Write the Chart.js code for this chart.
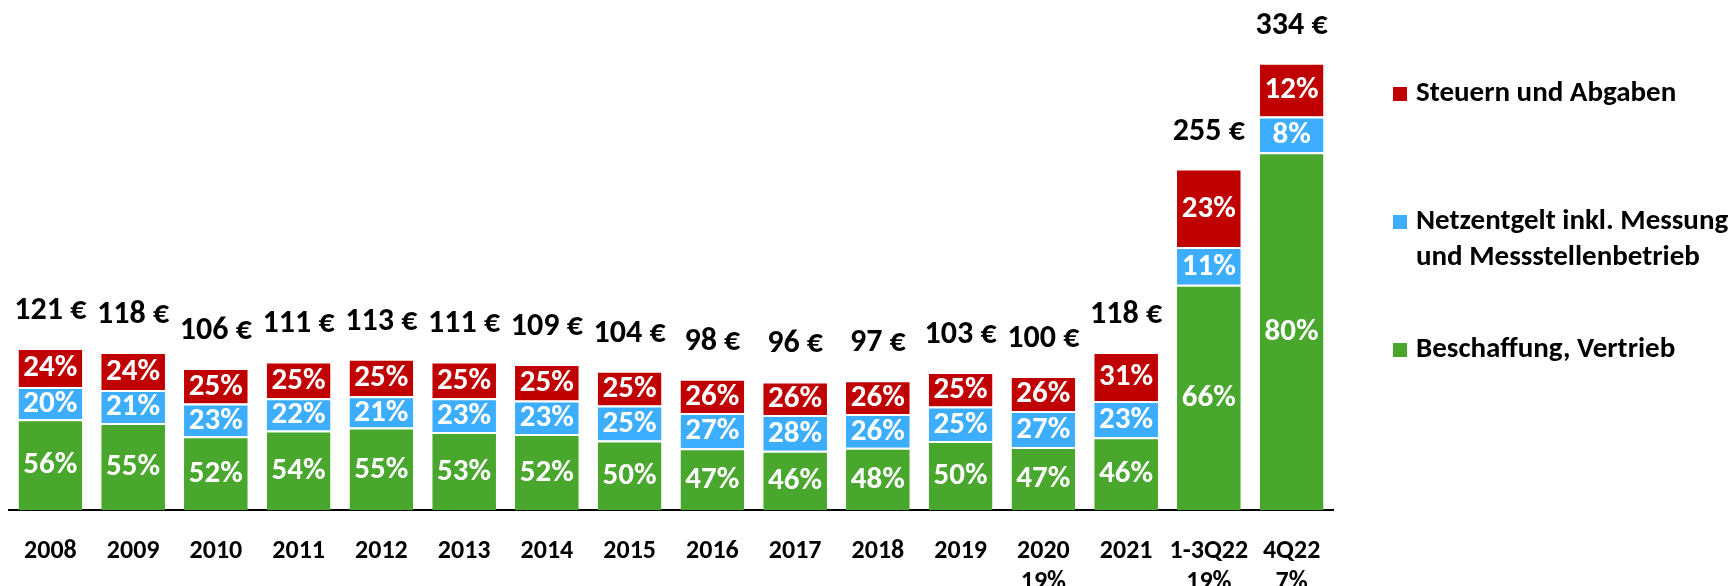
<!DOCTYPE html>
<html>
<head>
<meta charset="utf-8">
<script src="https://cdn.jsdelivr.net/npm/chart.js@4.4.0/dist/chart.umd.min.js"></script>
<style>
  html, body { margin: 0; padding: 0; background: #fff; }
</style>
</head>
<body>
<canvas id="myChart" width="1735" height="586"></canvas>
<script>
// Kategorien (zweite Zeile = MwSt-Satz, wo angegeben)
const jahre = [['2008'], ['2009'], ['2010'], ['2011'], ['2012'], ['2013'], ['2014'], ['2015'],
  ['2016'], ['2017'], ['2018'], ['2019'], ['2020', '19%'], ['2021'], ['1-3Q22', '19%'], ['4Q22', '7%']];

// Gesamtbetrag in Euro
const gesamt = [121, 118, 106, 111, 113, 111, 109, 104, 98, 96, 97, 103, 100, 118, 255, 334];

// Anteile in Prozent
const anteilSteuern = [24, 24, 25, 25, 25, 25, 25, 25, 26, 26, 26, 25, 26, 31, 23, 12];
const anteilNetz = [20, 21, 23, 22, 21, 23, 23, 25, 27, 28, 26, 25, 27, 23, 11, 8];
const anteilBeschaffung = [56, 55, 52, 54, 55, 53, 52, 50, 47, 46, 48, 50, 47, 46, 66, 80];

const schrift = 'Carlito, Lato, sans-serif';

// Euro-Wert je Segment aus Gesamtbetrag und Anteil
function inEuro(anteile) {
  return anteile.map((p, i) => {
    const summe = anteilSteuern[i] + anteilNetz[i] + anteilBeschaffung[i];
    return gesamt[i] * p / summe;
  });
}

const datensaetze = [
  { label: 'Beschaffung, Vertrieb', anteil: anteilBeschaffung, farbe: '#48A72C' },
  { label: 'Netzentgelt inkl. Messung\nund Messstellenbetrieb', anteil: anteilNetz, farbe: '#3DAEFF' },
  { label: 'Steuern und Abgaben', anteil: anteilSteuern, farbe: '#C00000' }
];

const beschriftung = {
  id: 'beschriftung',
  afterDatasetsDraw(chart) {
    const ctx = chart.ctx;
    ctx.save();
    ctx.textAlign = 'center';
    ctx.textBaseline = 'middle';
    ctx.font = 'bold 31px ' + schrift;
    ctx.fillStyle = '#fff';
    chart.data.datasets.forEach((ds, d) => {
      chart.getDatasetMeta(d).data.forEach((bar, i) => {
        ctx.fillText(ds.anteil[i] + '%', bar.x, (bar.y + bar.base) / 2 + 1);
      });
    });
    // Summen ueber den Balken
    const oben = chart.getDatasetMeta(chart.data.datasets.length - 1).data;
    ctx.font = 'bold 32px ' + schrift;
    ctx.fillStyle = '#000';
    oben.forEach((bar, i) => {
      ctx.fillText(gesamt[i] + ' €', bar.x, bar.y - 37);
    });
    ctx.restore();
  }
};

const legende = {
  id: 'legende',
  afterDraw(chart) {
    const ctx = chart.ctx;
    const eintraege = [
      { ds: 2, y: 94 },
      { ds: 1, y: 222 },
      { ds: 0, y: 350 }
    ];
    ctx.save();
    ctx.font = 'bold 29px ' + schrift;
    ctx.textBaseline = 'middle';
    ctx.textAlign = 'left';
    eintraege.forEach(e => {
      const ds = chart.data.datasets[e.ds];
      ctx.fillStyle = ds.backgroundColor;
      ctx.fillRect(1393, e.y - 7, 14, 14);
      ctx.fillStyle = '#000';
      ds.label.split('\n').forEach((zeile, z) => {
        ctx.fillText(zeile, 1416, e.y + z * 36);
      });
    });
    ctx.restore();
  }
};

const ctx = document.getElementById('myChart').getContext('2d');

new Chart(ctx, {
  type: 'bar',
  data: {
    labels: jahre,
    datasets: datensaetze.map(s => ({
      label: s.label,
      data: inEuro(s.anteil),
      anteil: s.anteil,
      backgroundColor: s.farbe,
      borderColor: '#fff',
      borderWidth: { top: 2, left: 0, right: 0, bottom: 0 },
      borderSkipped: false,
      barPercentage: 0.77,
      categoryPercentage: 1
    }))
  },
  options: {
    responsive: false,
    animation: false,
    layout: { padding: { top: 28, left: 9, right: 402, bottom: 0 } },
    plugins: {
      legend: { display: false },
      tooltip: { enabled: false }
    },
    scales: {
      x: {
        stacked: true,
        grid: { display: false },
        border: { display: true, color: '#000', width: 2 },
        ticks: {
          color: '#000',
          padding: 18,
          font: { family: schrift, size: 26, weight: 'bold', lineHeight: 1.2 },
          maxRotation: 0,
          autoSkip: false
        },
        afterFit(scale) { scale.height = 76; }
      },
      y: {
        stacked: true,
        display: false,
        min: 0,
        max: 360
      }
    }
  },
  plugins: [beschriftung, legende]
});
</script>
</body>
</html>
